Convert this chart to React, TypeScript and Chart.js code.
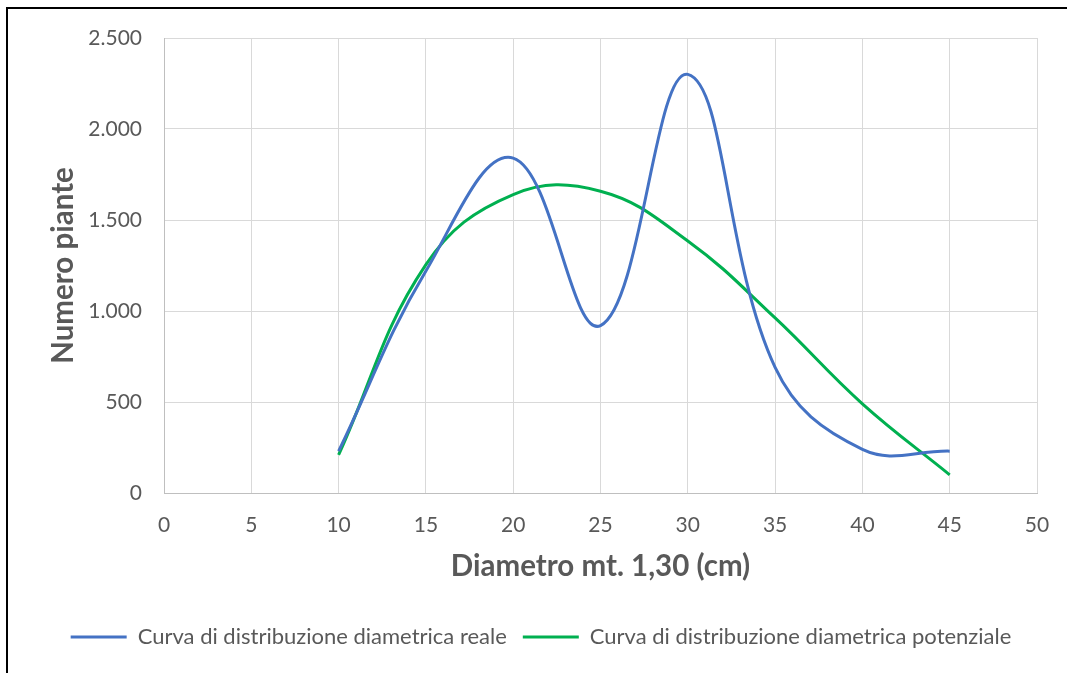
import React, { useEffect, useRef } from 'react';
import { Chart, registerables } from 'chart.js';

Chart.register(...registerables);

const diameters = [10, 15, 20, 25, 30, 35, 40, 45];
const realCounts = [230, 1220, 1840, 920, 2300, 690, 240, 230];
const potentialCounts = [210, 1255, 1640, 1658, 1385, 962, 490, 100];
const yTickLabels = ['0', '500', '1.000', '1.500', '2.000', '2.500'];
const seriesNames = [
  'Curva di distribuzione diametrica reale',
  'Curva di distribuzione diametrica potenziale',
];
const seriesColors = ['#4472C4', '#00B050'];
const xTitle = 'Diametro mt. 1,30 (cm)';
const yTitle = 'Numero piante';

const FONT = 'Lato, "Open Sans", sans-serif';
const TEXT = '#595959';

export default function App() {
  const ref = useRef<HTMLCanvasElement | null>(null);

  useEffect(() => {
    if (!ref.current) return;
    const toPoints = (vals: number[]) => diameters.map((d, i) => ({ x: d, y: vals[i] }));
    const chart = new Chart(ref.current, {
      type: 'line',
      data: {
        datasets: [
          {
            label: seriesNames[0],
            data: toPoints(realCounts),
            borderColor: seriesColors[0],
            backgroundColor: seriesColors[0],
            borderWidth: 3,
            pointRadius: 0,
            tension: 0.4,
          },
          {
            label: seriesNames[1],
            data: toPoints(potentialCounts),
            borderColor: seriesColors[1],
            backgroundColor: seriesColors[1],
            borderWidth: 3,
            pointRadius: 0,
            tension: 0.4,
          },
        ],
      },
      options: {
        animation: false,
        responsive: true,
        maintainAspectRatio: false,
        layout: { padding: { left: 37, right: 30, top: 29, bottom: 15 } },
        plugins: {
          tooltip: { enabled: false },
          legend: {
            position: 'bottom',
            labels: {
              font: { family: FONT, size: 22 },
              color: TEXT,
              boxWidth: 56,
              boxHeight: 3,
              padding: 16,
              generateLabels: (c: any) =>
                (Chart.defaults.plugins.legend.labels as any)
                  .generateLabels(c)
                  .map((l: any) => ({ ...l, lineWidth: 0 })),
            },
          },
        },
        scales: {
          x: {
            type: 'linear',
            min: 0,
            max: 50,
            ticks: {
              stepSize: 5,
              padding: 20,
              color: TEXT,
              font: { family: FONT, size: 21 },
            },
            grid: { color: '#d9d9d9', drawTicks: false },
            border: { color: '#bfbfbf' },
            title: {
              display: true,
              text: xTitle,
              color: TEXT,
              font: { family: FONT, size: 29.5, weight: 'bold' },
              padding: { top: 0, bottom: 26 },
            },
            afterFit: (s: any) => {
              s.height = 117;
              s.paddingLeft = 0;
              s.paddingRight = 0;
            },
          },
          y: {
            min: 0,
            max: 2500,
            ticks: {
              stepSize: 500,
              padding: 22,
              color: TEXT,
              font: { family: FONT, size: 21 },
              callback: (_v: any, i: number) => yTickLabels[i],
            },
            grid: { color: '#d9d9d9', drawTicks: false },
            border: { color: '#bfbfbf' },
            title: {
              display: true,
              text: yTitle,
              color: TEXT,
              font: { family: FONT, size: 29.5, weight: 'bold' },
              padding: { top: 1, bottom: 0 },
            },
            afterFit: (s: any) => {
              s.width = 119;
              s.paddingTop = 0;
              s.paddingBottom = 0;
            },
          },
        },
      },
    } as any);
    return () => chart.destroy();
  }, []);

  return (
    <div
      style={{
        position: 'absolute',
        left: 6,
        top: 7,
        borderLeft: '2px solid #000',
        borderTop: '2px solid #000',
        width: 1059,
        height: 664,
        background: '#fff',
      }}
    >
      <div style={{ position: 'relative', width: 1059, height: 664 }}>
        <canvas ref={ref} />
      </div>
    </div>
  );
}
